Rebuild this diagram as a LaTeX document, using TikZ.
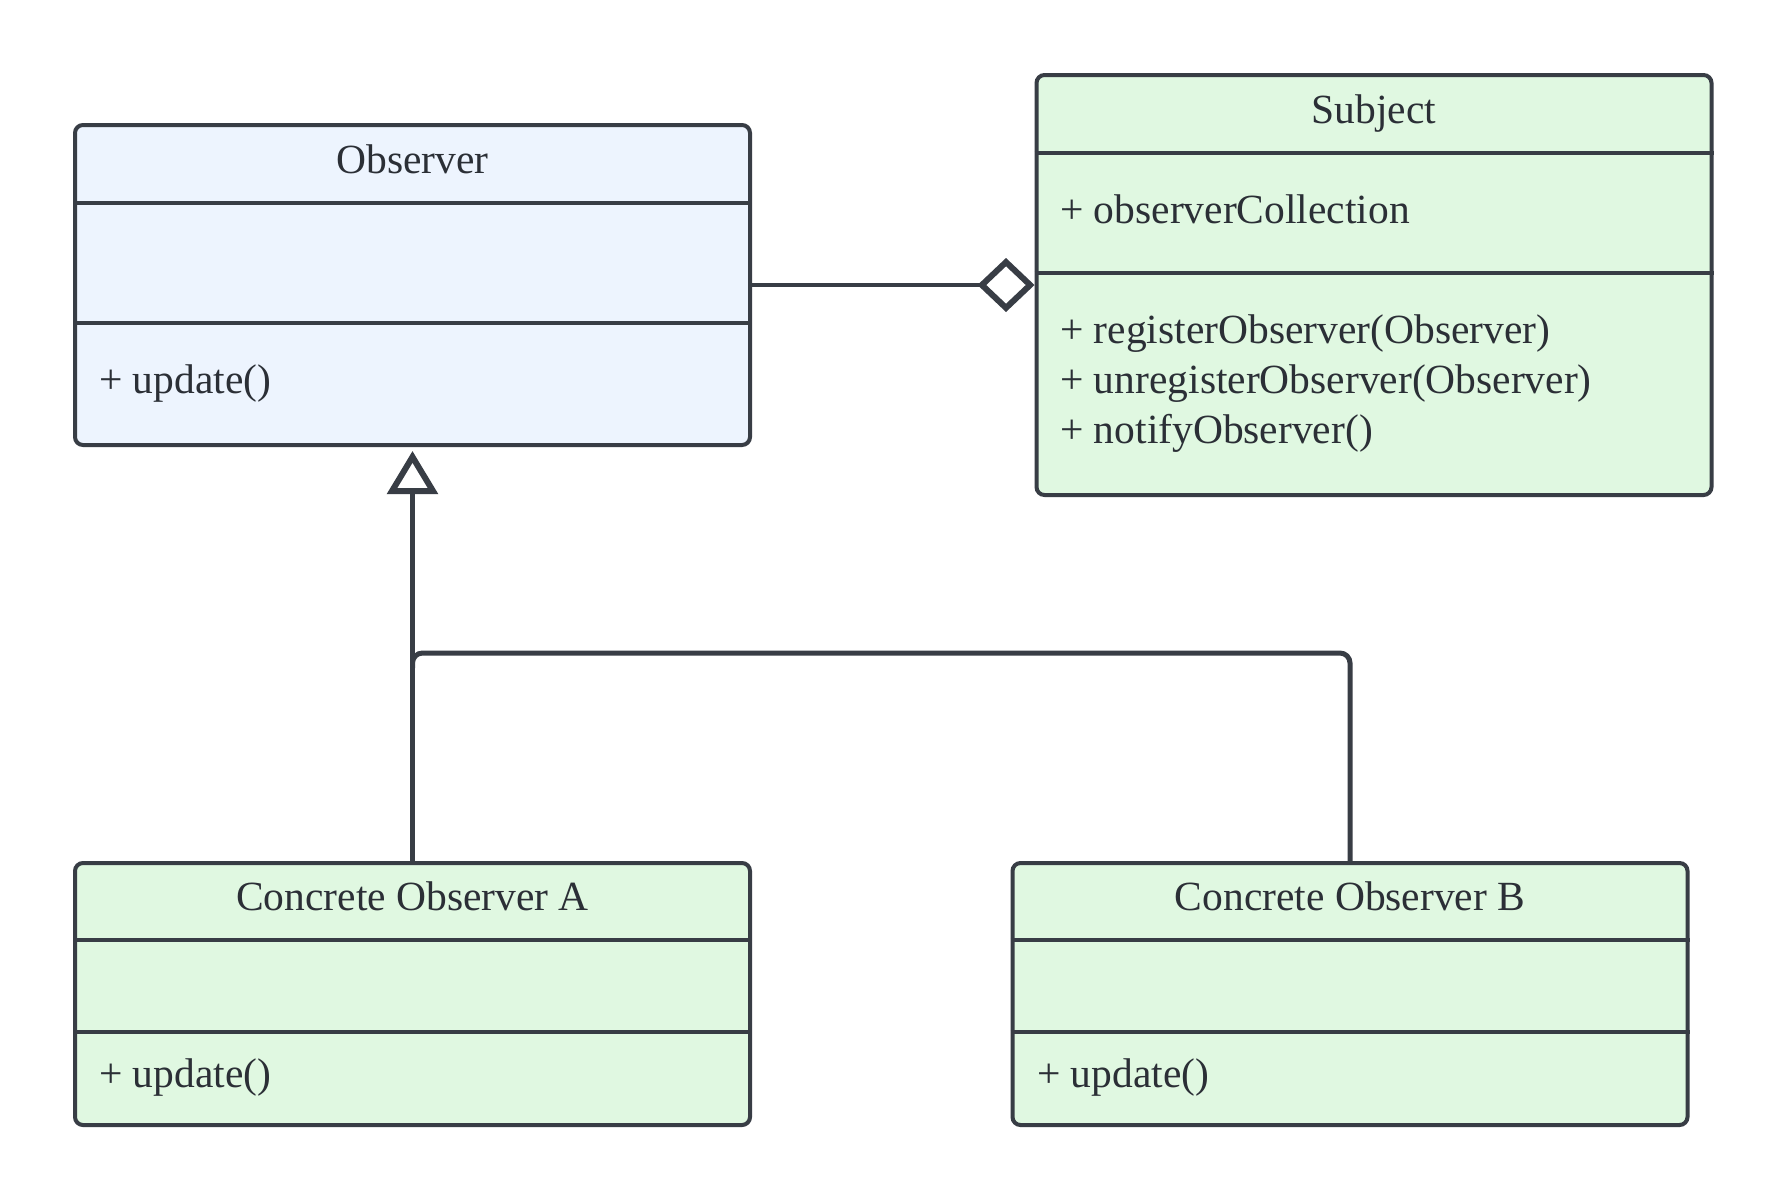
\documentclass[tikz,border=0pt]{standalone}
\usepackage{fontspec}
\setmainfont{Liberation Serif}
\usetikzlibrary{arrows.meta}
\definecolor{lineclr}{HTML}{383D45}
\definecolor{txtclr}{HTML}{2B2F36}
\definecolor{bluefill}{HTML}{EDF4FE}
\definecolor{greenfill}{HTML}{E0F8E1}
\tikzset{
  classbox/.style={draw=lineclr, line width=4pt, rounded corners=8pt, minimum width=675pt, inner sep=0pt},
  divider/.style={draw=lineclr, line width=4pt},
  txt/.style={inner sep=0pt, text=txtclr, font=\fontsize{41.5}{50}\selectfont},
  conn/.style={draw=lineclr, line width=4.2pt},
  connb/.style={draw=lineclr, line width=5pt},
}
\begin{document}
\begin{tikzpicture}[x=1pt,y=-1pt]
\useasboundingbox[fill=white] (0,0) rectangle (1787,1200);

% Observer
\node[classbox, fill=bluefill, minimum height=320pt] (obs) at (412.5,285) {};
\draw[divider] ([yshift=-80pt]obs.north west) -- ([yshift=-80pt]obs.north east);
\draw[divider] ([yshift=-200pt]obs.north west) -- ([yshift=-200pt]obs.north east);
\node[txt, anchor=base] (obst) at (412.5,173) {Observer};
\node[txt, anchor=base west] (obsm) at (99,393) {+ update()};

% Subject
\node[classbox, fill=greenfill, minimum height=420pt] (sub) at (1374,285) {};
\draw[divider] ([yshift=-80pt]sub.north west) -- ([yshift=-80pt]sub.north east);
\draw[divider] ([yshift=-200pt]sub.north west) -- ([yshift=-200pt]sub.north east);
\node[txt, anchor=base] (subt) at (1374,123) {Subject};
\node[txt, anchor=base west] (suba) at (1060,223) {+ observerCollection};
\node[txt, anchor=base west] (subm) at (1060,343) {+ registerObserver(Observer)};
\node[txt, anchor=base west] (subm2) at (1060,393) {+ unregisterObserver(Observer)};
\node[txt, anchor=base west] (subm3) at (1060,443) {+ notifyObserver()};

% Concrete Observer A
\node[classbox, fill=greenfill, minimum height=262pt] (ca) at (412.5,994) {};
\draw[divider] ([yshift=-79pt]ca.north west) -- ([yshift=-79pt]ca.north east);
\draw[divider] ([yshift=-171pt]ca.north west) -- ([yshift=-171pt]ca.north east);
\node[txt, anchor=base] (cat) at (412.5,910) {Concrete Observer A};
\node[txt, anchor=base west] (cam) at (99,1087) {+ update()};

% Concrete Observer B
\node[classbox, fill=greenfill, minimum height=262pt] (cb) at (1350,994) {};
\draw[divider] ([yshift=-79pt]cb.north west) -- ([yshift=-79pt]cb.north east);
\draw[divider] ([yshift=-171pt]cb.north west) -- ([yshift=-171pt]cb.north east);
\node[txt, anchor=base] (cbt) at (1350,910) {Concrete Observer B};
\node[txt, anchor=base west] (cbm) at (1037,1087) {+ update()};

% connectors
\coordinate (j) at (412.5,653);
\coordinate (jb) at (412.5,668);
\draw[connb, rounded corners=10pt] (cb.north) |- (j) -- (jb);
\draw[conn, -{Triangle[fill=white, line width=6pt, length=43pt, width=50pt]}, shorten >=4pt] (ca.north) -- (obs.south);
\draw[conn, -{Diamond[fill=white, line width=6pt, length=57pt, width=54pt]}] (obs.east) -- (sub.west);
\end{tikzpicture}
\end{document}
